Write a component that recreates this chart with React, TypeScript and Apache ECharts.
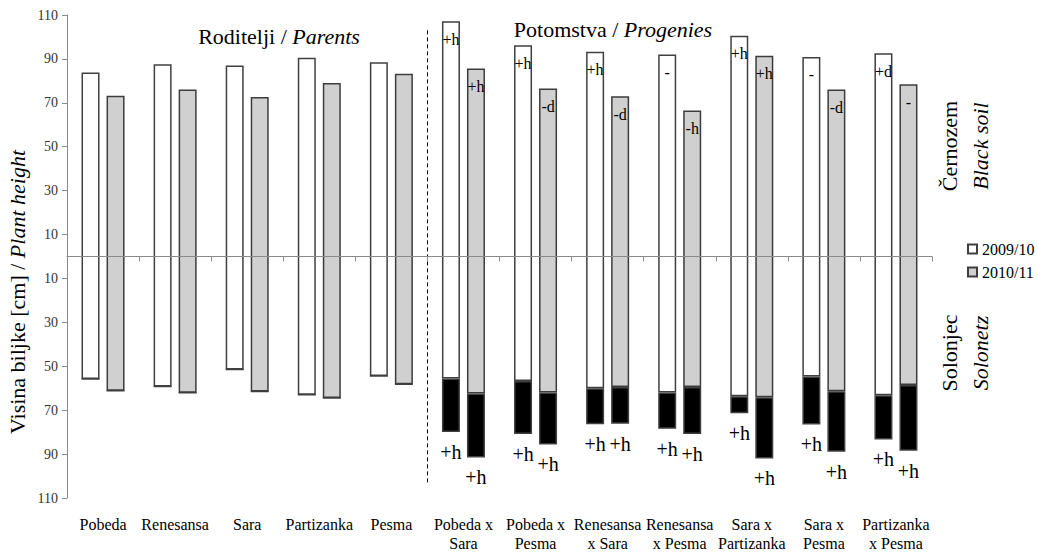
import React, { useEffect, useRef } from "react";
import * as echarts from "echarts";

const FONT = "Liberation Serif";

const categories = [
  "Pobeda",
  "Renesansa",
  "Sara",
  "Partizanka",
  "Pesma",
  "Pobeda x\nSara",
  "Pobeda x\nPesma",
  "Renesansa\nx Sara",
  "Renesansa\nx Pesma",
  "Sara x\nPartizanka",
  "Sara x\nPesma",
  "Partizanka\nx Pesma",
];

// Černozem / Black soil (upwards)
const black2009 = [83.8, 87.6, 87.0, 90.5, 88.5, 107.1, 96.2, 93.3, 92.0, 100.6, 90.9, 92.6];
const black2010 = [73.2, 76.1, 72.7, 79.0, 83.2, 85.6, 76.5, 73.0, 66.5, 91.4, 76.1, 78.5];
const blackLabels2009 = ["", "", "", "", "", "+h", "+h", "+h", "-", "+h", "-", "+d"];
const blackLabels2010 = ["", "", "", "", "", "+h", "-d", "-d", "-h", "+h", "-d", "-"];

// Solonjec / Solonetz (downwards): total height and start of the black part
const sol2009 = [55.8, 59.2, 51.5, 63.0, 54.4, 79.9, 80.8, 76.4, 78.5, 71.4, 76.5, 83.3];
const sol2010 = [61.2, 62.1, 61.5, 64.4, 58.2, 91.5, 85.6, 76.2, 80.8, 92.0, 88.9, 88.5];
const solBlackStart2009 = [null, null, null, null, null, 55.6, 56.7, 60.0, 62.0, 63.6, 54.7, 63.2];
const solBlackStart2010 = [null, null, null, null, null, 62.4, 62.0, 59.4, 59.4, 64.1, 61.4, 58.5];
const solLabels2009 = ["", "", "", "", "", "+h", "+h", "+h", "+h", "+h", "+h", "+h"];
const solLabels2010 = ["", "", "", "", "", "+h", "+h", "+h", "+h", "+h", "+h", "+h"];

const yTicks = [-110, -90, -70, -50, -30, -10, 10, 30, 50, 70, 90, 110];

// Floating-bar pieces built from the arrays above (stackStrategy "all")
const offsetOf = (tot: number[]) => tot.map((t) => -t);
const blackSegOf = (tot: number[], start: (number | null)[]) =>
  tot.map((t, i) => (start[i] == null ? 0 : t - (start[i] as number)));
const mainSegOf = (tot: number[], start: (number | null)[], top: number[]) =>
  tot.map((t, i) => (start[i] == null ? t : (start[i] as number)) + top[i]);

export default function App() {
  const ref = useRef<HTMLDivElement>(null);
  useEffect(() => {
    if (!ref.current) return;
    const chart = echarts.init(ref.current, undefined, { renderer: "svg" });
    const whiteStyle = { color: "#ffffff", borderColor: "#404040", borderWidth: 1.5 };
    const grayStyle = { color: "#d0d0d0", borderColor: "#3c3c3c", borderWidth: 1.5 };
    const blackStyle = { color: "#000000", borderColor: "#404040", borderWidth: 1.5 };
    const hiddenStyle = { color: "rgba(0,0,0,0)", borderWidth: 0 };
    const barCommon = {
      type: "bar",
      barWidth: 18,
      barGap: "39%",
      xAxisIndex: 0,
      yAxisIndex: 0,
      stackStrategy: "all",
    };
    const topLabel = (labels: string[]) => ({
      show: true,
      position: "insideTop",
      distance: 10,
      fontSize: 16,
      fontFamily: FONT,
      color: "#000",
      formatter: (p: any) => labels[p.dataIndex] || "",
    });
    const bottomLabel = (labels: string[]) => ({
      show: true,
      position: "bottom",
      distance: 10,
      fontSize: 20,
      fontFamily: FONT,
      color: "#000",
      formatter: (p: any) => labels[p.dataIndex] || "",
    });

    const option: any = {
      animation: false,
      textStyle: { fontFamily: FONT },
      grid: { left: 67, right: 106, top: 15, bottom: 54, containLabel: false },
      legend: {
        data: ["2009/10", "2010/11"],
        orient: "vertical",
        left: 962,
        top: 236,
        icon: "rect",
        itemWidth: 9,
        itemHeight: 9,
        itemGap: 7,
        selectedMode: false,
        textStyle: { fontSize: 16, fontFamily: FONT, color: "#000" },
      },
      xAxis: [
        {
          type: "category",
          data: categories,
          position: "bottom",
          axisLine: { show: false, onZero: false },
          axisTick: { show: false },
          axisLabel: {
            interval: 0,
            fontSize: 16,
            fontFamily: FONT,
            color: "#000",
            margin: 17,
            lineHeight: 19,
          },
        },
        {
          type: "category",
          data: categories,
          position: "bottom",
          z: 10,
          axisLine: { show: true, onZero: true, lineStyle: { color: "#8a8a8a", width: 1 } },
          axisTick: { show: true, length: 5, lineStyle: { color: "#8a8a8a" } },
          axisLabel: { show: false },
        },
      ],
      yAxis: {
        type: "value",
        min: -110,
        max: 110,
        splitLine: { show: false },
        axisLine: { show: true, lineStyle: { color: "#8a8a8a", width: 1 } },
        axisTick: { show: true, length: 5, customValues: yTicks, lineStyle: { color: "#8a8a8a" } },
        axisLabel: {
          customValues: yTicks,
          formatter: (v: number) => String(Math.abs(v)),
          fontSize: 14,
          fontFamily: FONT,
          color: "#333",
          margin: 9,
        },
      },
      series: [
        { ...barCommon, name: "off2009", stack: "w", data: offsetOf(sol2009), itemStyle: hiddenStyle, silent: true },
        { ...barCommon, name: "S2009", stack: "w", data: blackSegOf(sol2009, solBlackStart2009), itemStyle: blackStyle, label: bottomLabel(solLabels2009) },
        { ...barCommon, name: "2009/10", stack: "w", data: mainSegOf(sol2009, solBlackStart2009, black2009), itemStyle: whiteStyle, label: topLabel(blackLabels2009) },
        { ...barCommon, name: "off2010", stack: "g", data: offsetOf(sol2010), itemStyle: hiddenStyle, silent: true },
        { ...barCommon, name: "S2010", stack: "g", data: blackSegOf(sol2010, solBlackStart2010), itemStyle: blackStyle, label: bottomLabel(solLabels2010) },
        { ...barCommon, name: "2010/11", stack: "g", data: mainSegOf(sol2010, solBlackStart2010, black2010), itemStyle: grayStyle, label: topLabel(blackLabels2010) },
      ],
    };
    chart.setOption(option);

    const xa = chart.convertToPixel({ xAxisIndex: 0 }, categories[4]) as number;
    const xb = chart.convertToPixel({ xAxisIndex: 0 }, categories[5]) as number;
    const dashX = Math.round((xa + xb) / 2) + 0.5;
    const yTop = chart.convertToPixel({ yAxisIndex: 0 }, 103) as number;
    const yBot = chart.convertToPixel({ yAxisIndex: 0 }, -104) as number;

    const rich = (size: number) => ({
      n: { fontSize: size, fontFamily: FONT, fontStyle: "normal", fill: "#000" },
      i: { fontSize: size, fontFamily: FONT, fontStyle: "italic", fill: "#000" },
    });
    const txt = (x: number, y: number, text: string, size: number, rot = 0) => ({
      type: "text",
      x,
      y,
      rotation: rot,
      style: {
        text,
        rich: rich(size),
        fill: "#000",
        fontSize: size,
        fontFamily: FONT,
        align: "center",
        verticalAlign: "middle",
      },
    });

    chart.setOption({
      graphic: [
        {
          type: "line",
          shape: { x1: dashX, y1: yTop, x2: dashX, y2: yBot },
          style: { stroke: "#000", lineWidth: 1, lineDash: [4, 3] },
        },
        txt(279, 36, "{n|Roditelji / }{i|Parents}", 22),
        txt(613, 29, "{n|Potomstva / }{i|Progenies}", 22),
        txt(17, 292, "{n|Visina biljke [cm] / }{i|Plant height}", 22, Math.PI / 2),
        txt(949, 146, "{n|Černozem}", 22, Math.PI / 2),
        txt(980, 146, "{i|Black soil}", 22, Math.PI / 2),
        txt(949, 353, "{n|Solonjec}", 22, Math.PI / 2),
        txt(980, 353, "{i|Solonetz}", 22, Math.PI / 2),
      ],
    });

    return () => chart.dispose();
  }, []);
  return (
    <div
      ref={ref}
      style={{ position: "absolute", left: 0, top: 0, width: 1038, height: 553, background: "#fff" }}
    />
  );
}
